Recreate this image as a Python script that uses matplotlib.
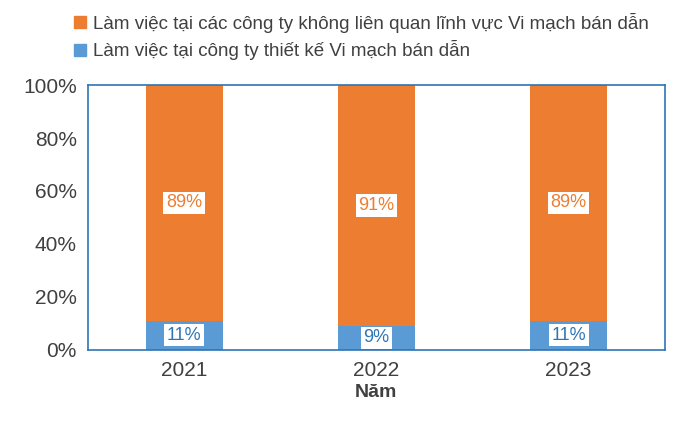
import matplotlib
matplotlib.use("Agg")
import matplotlib.pyplot as plt
from matplotlib.patches import Patch

years = ["2021", "2022", "2023"]
design = [11, 9, 11]
other = [89, 91, 89]
ticks = [0, 20, 40, 60, 80, 100]

plt.rcParams["font.family"] = "Liberation Sans"
fig = plt.figure(figsize=(6.77, 4.21), dpi=100)
ax = fig.add_axes([0.130, 0.169, 0.852, 0.629])
blue = "#5B9BD5"; orange = "#ED7D31"
x = range(len(years))
ax.bar(x, design, width=0.4, color=blue)
ax.bar(x, other, width=0.4, bottom=design, color=orange)
for i in x:
    ax.text(i, design[i] / 2, f"{design[i]}%", ha="center", va="center", fontsize=13,
            color="#2E75B6", bbox=dict(facecolor="white", edgecolor="none", pad=2))
    ax.text(i, design[i] + other[i] / 2, f"{other[i]}%", ha="center", va="center", fontsize=13,
            color=orange, bbox=dict(facecolor="white", edgecolor="none", pad=2))
ax.set_xlim(-0.5, 2.5)
ax.set_ylim(0, 100)
ax.set_yticks(ticks)
ax.set_yticklabels([f"{t}%" for t in ticks], fontsize=15, color="#404040")
ax.set_xticks(list(x))
ax.set_xticklabels(years, fontsize=15, color="#404040")
ax.tick_params(length=0, pad=8)
for s in ax.spines.values():
    s.set_color("#2E75B6"); s.set_linewidth(1.2)
ax.set_xlabel("Năm", fontsize=14, fontweight="bold", color="#404040", labelpad=3)
handles = [Patch(color=orange, label="Làm việc tại các công ty không liên quan lĩnh vực Vi mạch bán dẫn"),
           Patch(color=blue, label="Làm việc tại công ty thiết kế Vi mạch bán dẫn")]
fig.legend(handles=handles, loc="upper left", bbox_to_anchor=(0.085, 1.01), frameon=False,
           fontsize=13.5, handlelength=0.6, handleheight=0.6, handletextpad=0.4,
           labelcolor="#404040", labelspacing=0.4)
fig.savefig("out.png", dpi=100)
